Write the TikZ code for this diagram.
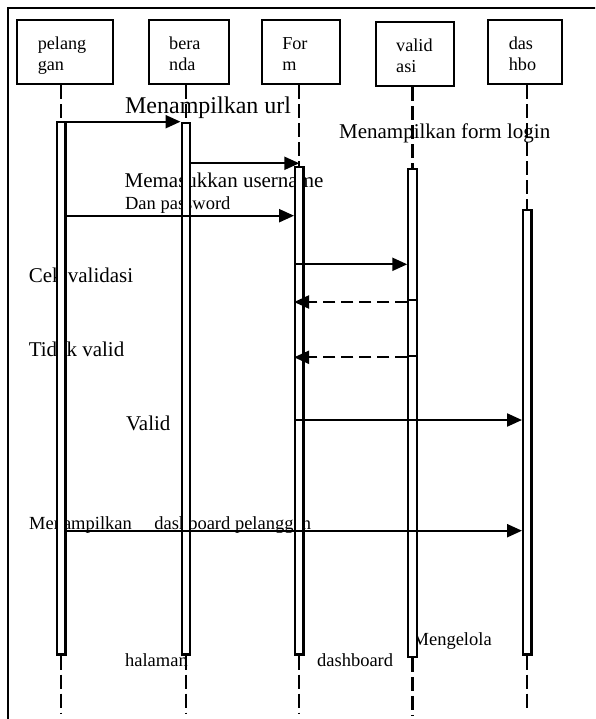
\documentclass[tikz,border=0pt]{standalone}
\usepackage{fontspec}
\setmainfont{Liberation Serif}
\usetikzlibrary{arrows.meta,positioning}

\begin{document}
\begin{tikzpicture}[x=1pt,y=-1pt,>={Triangle[length=15pt,width=13pt]},line width=2.2pt]
	\tikzstyle{obj}=[draw,minimum height=64.3pt,inner xsep=20.5pt,inner ysep=0pt,text width=#1,align=left,
		font=\fontsize{18.2}{20.5}\selectfont,execute at begin node={\rule{0pt}{20pt}},execute at end node={\rule[-4pt]{0pt}{4pt}}]
	\tikzstyle{bar}=[draw,fill=white,minimum width=8.3pt,inner sep=0pt,anchor=north]
	\tikzstyle{txt}=[anchor=base west,inner sep=0pt]
	\tikzstyle{life}=[dash pattern=on 14pt off 5pt]
	\tikzstyle{msg}=[->]
	\tikzstyle{ret}=[->,dash pattern=on 12pt off 6pt]

	\useasboundingbox (0,0) rectangle (595,719);
	\clip (0,0) rectangle (595,719);
	\draw (8,8) rectangle (610,730);

	\node[obj=54.4pt] (pel) at (65,52.2) {pelang\\gan};
	\node[obj=39.6pt] (ber) at (189,52.2) {bera\\nda};
	\node[obj=37.3pt] (frm) at (300.9,52.2) {For\\m};
	\node[obj=37pt] (val) at (414.7,54.2) {valid\\asi};
	\node[obj=32.4pt] (das) at (525,52.2) {das\\hbo};

	\node[txt,font=\fontsize{24}{28}\selectfont] (t1) at (124,114) {Menampilkan url};
	\node[txt,font=\fontsize{21}{25}\selectfont] (t2) at (338,138.3) {Menampilkan form login};
	\node[txt,font=\fontsize{21}{25}\selectfont] (t3) at (123.5,187.3) {Memasukkan username};
	\node[txt,font=\fontsize{18.5}{22}\selectfont] (t4) at (124,210) {Dan password};
	\node[txt,font=\fontsize{21}{25}\selectfont] (t5) at (27.7,282.7) {Cek validasi};
	\node[txt,font=\fontsize{21}{25}\selectfont] (t6) at (27.7,356.7) {Tidak valid};
	\node[txt,font=\fontsize{21}{25}\selectfont] (t7) at (125,430) {Valid};
	\node[txt,font=\fontsize{18.5}{22}\selectfont] (t8) at (28,529) {Menampilkan\hspace*{22.5pt}dashboard pelanggan};
	\node[txt,font=\fontsize{18.5}{22}\selectfont] (t9) at (124,666) {halaman};
	\node[txt,font=\fontsize{18.5}{22}\selectfont] (t10) at (316,666) {dashboard};
	\node[txt,font=\fontsize{18.5}{22}\selectfont] (t11) at (411.5,645) {Mengelola};

	\node[bar,minimum height=532.6pt] (pelbar) at (61.25,120.7) {};
	\node[bar,minimum height=531.6pt] (berbar) at (185.75,121.7) {};
	\node[bar,minimum height=487.6pt] (frmbar) at (299.3,165.7) {};
	\node[bar,minimum height=488pt] (valbar) at (412.5,167.7) {};
	\node[bar,minimum height=444pt] (dasbar) at (527.25,209.3) {};

	\draw[life] (pel.south -| pelbar.north) -- (pelbar.north);
	\draw[life] (ber.south -| berbar.north) -- (berbar.north);
	\draw[life] (frm.south -| frmbar.north) -- (frmbar.north);
	\draw[life] (val.south -| valbar.north) -- (valbar.north);
	\draw[life] (das.south -| dasbar.north) -- (dasbar.north);
	\draw[life] (pelbar.south) -- ++(0,58.4);
	\draw[life] (berbar.south) -- ++(0,58.4);
	\draw[life] (frmbar.south) -- ++(0,58.4);
	\draw[life] (valbar.south) -- ++(0,58.3);
	\draw[life] (dasbar.south) -- ++(0,54.7);

	\coordinate (m1) at (0,121.7);
	\coordinate (m2) at (0,163.3);
	\coordinate (m3) at (0,215.7);
	\coordinate (m4) at (0,264.3);
	\coordinate (m5) at (0,302);
	\coordinate (m6) at (0,357.3);
	\coordinate (m7) at (0,420);
	\coordinate (m8) at (0,530.7);
	\coordinate (k1) at (0,300);
	\coordinate (k2) at (0,355.7);

	\draw (valbar.west |- k1) -- (valbar.east |- k1);
	\draw (valbar.west |- k2) -- (valbar.east |- k2);

	\draw[msg] (pelbar.east |- m1) -- (berbar.west |- m1);
	\draw[msg] (berbar.east |- m2) -- (frmbar.north |- m2);
	\draw[msg] (pelbar.east |- m3) -- (frmbar.west |- m3);
	\draw[msg] (frmbar.west |- m4) -- (valbar.west |- m4);
	\draw[ret] (valbar.west |- m5) -- (frmbar.west |- m5);
	\draw[ret] (valbar.west |- m6) -- (frmbar.west |- m6);
	\draw[msg] (frmbar.west |- m7) -- (dasbar.west |- m7);
	\draw[msg] (pelbar.east |- m8) -- (dasbar.west |- m8);
\end{tikzpicture}
\end{document}
